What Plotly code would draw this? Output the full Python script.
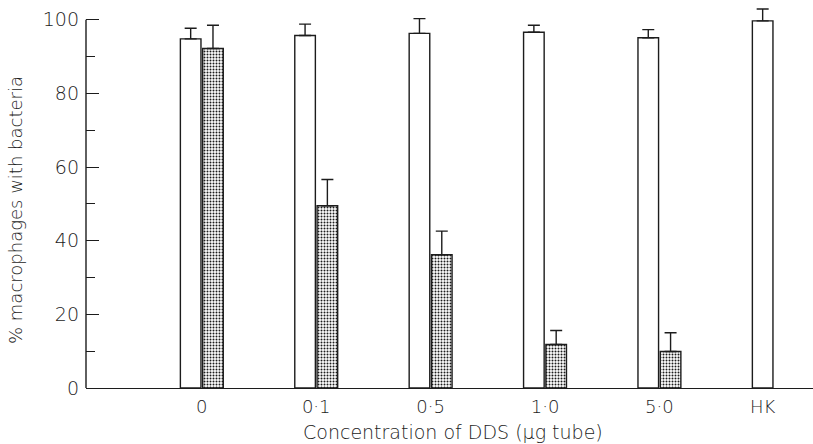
import plotly.graph_objects as go

categories = ["0", "0·1", "0·5", "1·0", "5·0", "HK"]
control = [94.8, 95.7, 96.3, 96.6, 95.1, 99.7]
control_err = [2.9, 3.1, 4.0, 1.9, 2.2, 3.2]
treated = [92.2, 49.5, 36.2, 11.8, 9.9]
treated_err = [6.3, 7.1, 6.4, 3.8, 5.1]
y_ticks = [0, 20, 40, 60, 80, 100]

INK = "#1c1c1c"
W = 0.18
OFF = 0.195

x_ctrl = list(range(len(control)))
x_trt = [i + OFF for i in range(len(treated))]
tick_pos = [i + OFF / 2 for i in range(len(treated))] + [len(categories) - 1]

fig = go.Figure()
fig.add_trace(go.Bar(
    x=x_ctrl, y=control, width=W,
    marker=dict(color="white", line=dict(color=INK, width=1.4)),
    error_y=dict(type="data", array=control_err, arrayminus=[0] * len(control),
                 symmetric=False, color=INK, thickness=1.4, width=6),
    showlegend=False,
))
fig.add_trace(go.Bar(
    x=x_trt, y=treated, width=W,
    marker=dict(color="white", line=dict(color=INK, width=1.4),
                pattern=dict(shape=".", fgcolor=INK, bgcolor="white",
                             size=3, solidity=0.35)),
    error_y=dict(type="data", array=treated_err, arrayminus=[0] * len(treated),
                 symmetric=False, color=INK, thickness=1.4, width=6),
    showlegend=False,
))

fig.update_layout(
    template="none",
    width=813, height=444,
    margin=dict(l=86, r=0, t=5, b=56),
    paper_bgcolor="white", plot_bgcolor="white",
    barmode="overlay",
    font=dict(family="DejaVu Sans", color=INK, size=16),
    xaxis=dict(
        range=[-0.915, 5.44], showgrid=False, zeroline=False,
        showline=True, linecolor=INK, linewidth=1.4,
        tickmode="array", tickvals=tick_pos, ticktext=categories,
        ticks="", tickfont=dict(size=18, family="DejaVu Sans", weight=300, color=INK),
        ticklabelstandoff=2,
    ),
    yaxis=dict(
        range=[0, 104], showgrid=False, zeroline=False, showline=False,
        tickmode="array", tickvals=y_ticks,
        ticks="inside", ticklen=13, tickwidth=1.4, tickcolor=INK,
        minor=dict(tickvals=[10, 30, 50, 70, 90], ticks="inside",
                   ticklen=9, tickwidth=1.4, tickcolor=INK, showgrid=False),
        tickfont=dict(size=19, family="DejaVu Sans", weight=300, color=INK),
        ticklabelstandoff=6,
    ),
    shapes=[dict(type="line", xref="paper", x0=0, x1=0, yref="y", y0=0, y1=100,
                 line=dict(color=INK, width=1.4))],
    annotations=[
        dict(text="% macrophages with bacteria", xref="paper", yref="paper",
             x=-(86 - 15) / 727, y=(383 - (210 - 5)) / 383, textangle=-90,
             showarrow=False, xanchor="center", yanchor="middle",
             font=dict(size=18, family="DejaVu Sans", weight=300, color=INK)),
        dict(text="Concentration of DDS (μg tube)", xref="paper", yref="paper",
             x=(453 - 86) / 727, y=-(432 - 388) / 383,
             showarrow=False, xanchor="center", yanchor="middle",
             font=dict(size=19, family="DejaVu Sans", weight=300, color=INK)),
    ],
)

fig.write_html("out.html")
